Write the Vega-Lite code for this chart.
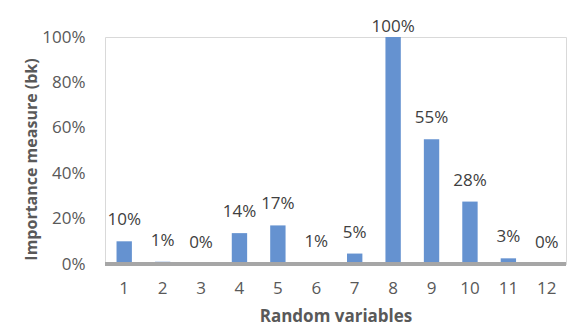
{
  "$schema": "https://vega.github.io/schema/vega-lite/v6.json",
  "autosize": "none",
  "width": 461,
  "height": 227,
  "padding": {"left": 105, "top": 37, "right": 3, "bottom": 67},
  "background": "white",
  "config": {
    "font": "Open Sans",
    "view": {"stroke": "#d9d9d9", "strokeWidth": 1}
  },
  "data": {
    "values": [
      {"var": "1", "value": 0.10, "label": "10%"},
      {"var": "2", "value": 0.01, "label": "1%"},
      {"var": "3", "value": 0.002, "label": "0%"},
      {"var": "4", "value": 0.136, "label": "14%"},
      {"var": "5", "value": 0.17, "label": "17%"},
      {"var": "6", "value": 0.005, "label": "1%"},
      {"var": "7", "value": 0.046, "label": "5%"},
      {"var": "8", "value": 1.0, "label": "100%"},
      {"var": "9", "value": 0.55, "label": "55%"},
      {"var": "10", "value": 0.275, "label": "28%"},
      {"var": "11", "value": 0.025, "label": "3%"},
      {"var": "12", "value": 0.002, "label": "0%"}
    ]
  },
  "encoding": {
    "x": {
      "field": "var", "type": "ordinal", "sort": null,
      "scale": {"paddingInner": 0.6, "paddingOuter": 0.3},
      "axis": {
        "title": "Random variables", "labelAngle": 0, "ticks": false, "domain": false,
        "labelFontSize": 17, "labelColor": "#595959", "labelPadding": 16, "labelOverlap": false,
        "titleFontSize": 17, "titleFontWeight": "bold", "titleColor": "#595959", "titlePadding": 12
      }
    },
    "y": {
      "field": "value", "type": "quantitative",
      "scale": {"domain": [0, 1], "nice": false},
      "axis": {
        "title": "Importance measure  (bk)", "format": ".0%", "values": [0, 0.2, 0.4, 0.6, 0.8, 1.0],
        "grid": false, "ticks": false, "domain": false, "labelOverlap": false, "labelBound": false, "labelFlush": false,
        "labelFontSize": 17, "labelColor": "#595959", "labelPadding": 20,
        "titleFontSize": 16, "titleFontWeight": "bold", "titleColor": "#595959", "titlePadding": 2, "titleY": 122
      }
    }
  },
  "layer": [
    {"mark": {"type": "bar", "color": "#6592d0"}},
    {"transform": [{"filter": "datum.value < 1"}],
     "mark": {"type": "text", "baseline": "alphabetic", "dy": -16, "fontSize": 17, "color": "#404040"},
     "encoding": {"text": {"field": "label"}}},
    {"transform": [{"filter": "datum.value >= 1"}],
     "mark": {"type": "text", "baseline": "alphabetic", "dy": -5, "fontSize": 17, "color": "#404040"},
     "encoding": {"text": {"field": "label"}}},
    {"mark": {"type": "rule", "color": "#a6a6a6", "strokeWidth": 3},
     "encoding": {"y": {"datum": 0}, "x": null}}
  ]
}
